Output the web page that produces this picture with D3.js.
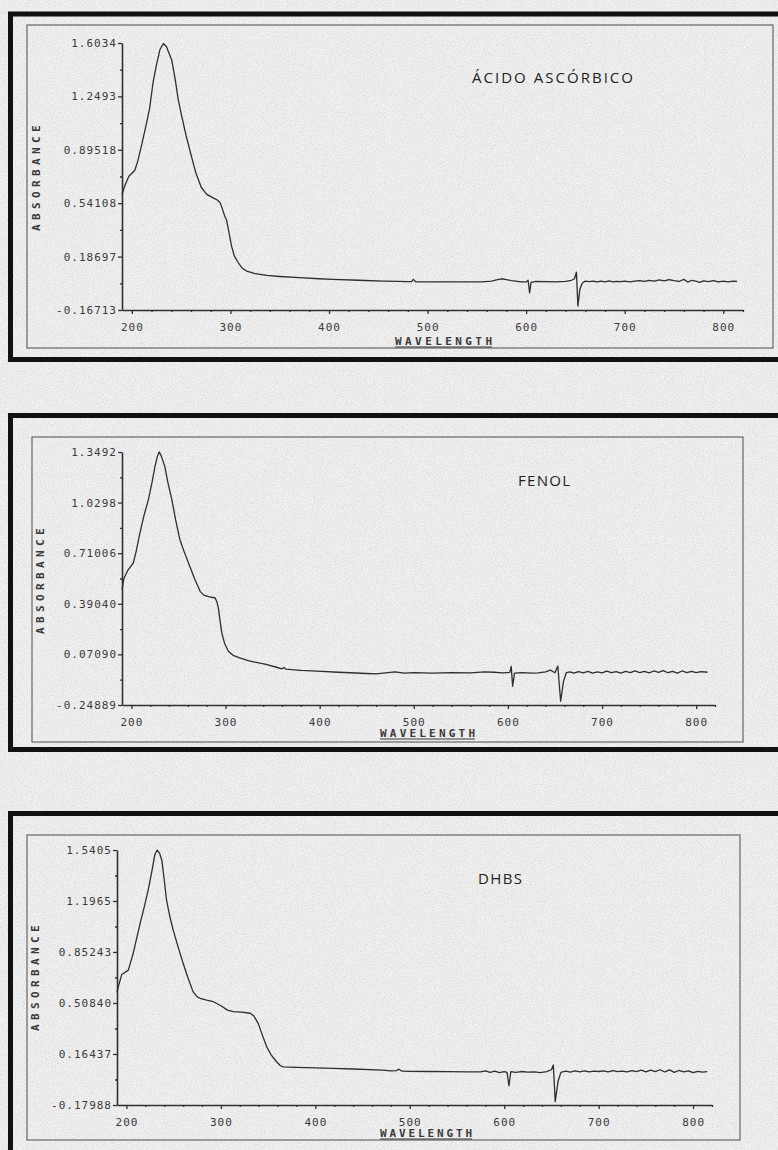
<!DOCTYPE html>
<html>
<head>
<meta charset="utf-8">
<script src="https://cdnjs.cloudflare.com/ajax/libs/d3/7.8.5/d3.min.js"></script>
<style>
  body { margin: 0; background: #ededed; }
  svg { display: block; }
</style>
</head>
<body>
<div id="container"></div>
<script>
/* DATA */
// x ticks shared by all three spectra (nm)
const xMajorTicks = [200, 300, 400, 500, 600, 700, 800];

// ÁCIDO ASCÓRBICO
const yTicksAsc = ["1.6034", "1.2493", "0.89518", "0.54108", "0.18697", "-0.16713"];
const wlAsc = [190, 193, 197, 203, 206, 210, 215.5, 218, 221.5, 225, 228.5, 232, 235, 238, 240.5, 244, 247, 250.5, 255, 260.5, 265, 270.5, 276, 282.5, 286, 289.5, 292, 294, 296, 298.5, 301, 304, 308, 312, 316.5, 325, 337, 350, 370, 390, 404, 430, 455,
  470, 480, 484, 485.5, 488, 500, 520, 540, 555, 565, 570, 575, 580, 585, 595, 600, 602, 603.5, 605, 610, 620, 630, 640, 646, 649, 651, 652.5, 654.5, 657, 660, 664, 668,
  672, 676, 680, 684, 688, 692, 696, 700, 705, 710, 715, 720, 725, 730, 735, 740, 745, 750, 755, 760, 764, 768, 772, 776, 780, 785, 790, 795, 800, 805, 810, 814];
const absAsc = [0.60, 0.66, 0.72, 0.76, 0.82, 0.93, 1.09, 1.17, 1.34, 1.46, 1.56, 1.60, 1.58, 1.53, 1.49, 1.36, 1.23, 1.12, 0.99, 0.85, 0.74, 0.645, 0.60, 0.576, 0.565, 0.545, 0.50, 0.46, 0.43, 0.35, 0.26, 0.19, 0.146, 0.11, 0.091, 0.074, 0.062, 0.055, 0.047, 0.040, 0.036, 0.030, 0.025,
  0.023, 0.021, 0.022, 0.036, 0.020, 0.020, 0.019, 0.020, 0.019, 0.024, 0.032, 0.040, 0.034, 0.028, 0.020, 0.019, 0.030, -0.053, 0.016, 0.022, 0.021, 0.020, 0.023, 0.030, 0.040, 0.084, -0.141, -0.030, 0.012, 0.024, 0.021, 0.025,
  0.019, 0.024, 0.020, 0.026, 0.019, 0.023, 0.021, 0.025, 0.020, 0.024, 0.028, 0.022, 0.030, 0.024, 0.032, 0.026, 0.035, 0.028, 0.022, 0.036, 0.018, 0.030, 0.025, 0.016, 0.026, 0.021, 0.027, 0.019, 0.024, 0.020, 0.024, 0.022];

// FENOL
const yTicksFen = ["1.3492", "1.0298", "0.71006", "0.39040", "0.07090", "-0.24889"];
const wlFen = [190, 192, 196.5, 202, 205, 209, 213, 218, 222, 225, 227.5, 229.5, 232, 235.5, 239, 243, 247, 251.5, 256, 262, 267, 273, 277, 282, 289, 291, 292.5, 294, 296, 299, 303, 308, 315, 325, 343, 355, 360, 362, 364, 380, 397, 420, 450, 460, 470,
  480, 490, 500, 520, 540, 560, 575, 585, 595, 602, 603.5, 605, 607, 615, 625, 632, 640, 645, 650, 653, 656, 659, 662, 666, 670, 675, 680, 685, 690, 695, 700, 705, 710, 715, 720, 725, 730, 735, 740, 745, 750, 755, 760, 765, 770, 775, 780, 785, 790, 795, 800, 805, 812];
const absFen = [0.48, 0.55, 0.605, 0.648, 0.72, 0.837, 0.94, 1.047, 1.16, 1.257, 1.32, 1.35, 1.32, 1.257, 1.15, 1.047, 0.92, 0.795, 0.72, 0.627, 0.55, 0.469, 0.445, 0.435, 0.427, 0.40, 0.36, 0.29, 0.207, 0.14, 0.091, 0.065, 0.049, 0.030, 0.007, -0.012, -0.020, -0.012, -0.022, -0.030, -0.035, -0.042, -0.050, -0.052, -0.046,
  -0.040, -0.048, -0.045, -0.047, -0.044, -0.046, -0.040, -0.042, -0.046, -0.043, -0.005, -0.130, -0.048, -0.045, -0.047, -0.046, -0.040, -0.028, -0.045, -0.003, -0.225, -0.100, -0.045, -0.040, -0.048, -0.038, -0.046, -0.036, -0.047, -0.040, -0.046, -0.035, -0.044, -0.038, -0.048, -0.036, -0.045, -0.033, -0.044, -0.037, -0.046, -0.034, -0.043, -0.032, -0.045, -0.036, -0.047, -0.034, -0.044, -0.036, -0.045, -0.038, -0.042];

// DHBS
const yTicksDhbs = ["1.5405", "1.1965", "0.85243", "0.50840", "0.16437", "-0.17988"];
const wlDhbs = [190, 191.5, 195, 202, 207, 214.5, 219, 223, 227, 230, 232.5, 235, 237.5, 240, 242.5, 246, 249.5, 255, 260, 265, 270.5, 275, 278, 285, 292, 300, 307, 313, 322, 331, 335, 339.5, 344, 348.5, 353, 359, 363, 366, 380, 400, 419, 440, 471,
  480, 486, 488, 492, 500, 520, 540, 560, 575, 580, 585, 590, 595, 600, 603, 605, 607, 612, 618, 625, 632, 638, 645, 650, 652, 654, 657, 660, 665, 670, 675, 680, 685, 690, 695, 700, 705, 710, 715, 720, 725, 730, 735, 740, 745, 750, 755, 760, 765, 770, 775, 780, 785, 790, 795, 800, 805, 810, 815];
const absDhbs = [0.58, 0.62, 0.70, 0.73, 0.84, 1.046, 1.16, 1.27, 1.40, 1.507, 1.54, 1.52, 1.47, 1.34, 1.20, 1.09, 1.00, 0.88, 0.776, 0.68, 0.585, 0.55, 0.54, 0.527, 0.517, 0.49, 0.46, 0.45, 0.447, 0.439, 0.42, 0.371, 0.29, 0.213, 0.16, 0.112, 0.085, 0.078, 0.074, 0.070, 0.067, 0.063, 0.056,
  0.050, 0.052, 0.062, 0.048, 0.047, 0.046, 0.045, 0.044, 0.043, 0.050, 0.040, 0.048, 0.038, 0.045, 0.040, -0.050, 0.045, 0.040, 0.046, 0.042, 0.044, 0.038, 0.046, 0.058, 0.090, -0.157, -0.020, 0.040, 0.048, 0.042, 0.050, 0.044, 0.051, 0.043, 0.049, 0.046, 0.050, 0.044, 0.052, 0.045, 0.049, 0.043, 0.052, 0.046, 0.055, 0.044, 0.056, 0.046, 0.058, 0.043, 0.057, 0.040, 0.053, 0.044, 0.050, 0.038, 0.047, 0.042, 0.045];

/* LAYOUT (pixel boxes of each panel) */
const width = 778, height = 1150;
const panels = [
  { title: "ÁCIDO ASCÓRBICO", wl: wlAsc, ab: absAsc, yTicks: yTicksAsc,
    outer: [10.5, 14, 790, 359.5], inner: [27, 25, 773, 348],
    plot: { left: 122, right: 743, top: 43, bottom: 310 },
    titlePos: [472, 83, 161], absPos: [36, 176], wavePos: [395, 345, 97] },
  { title: "FENOL", wl: wlFen, ab: absFen, yTicks: yTicksFen,
    outer: [10.5, 415.5, 790, 749.5], inner: [32, 437, 743, 742],
    plot: { left: 122, right: 715, top: 452, bottom: 705 },
    titlePos: [518, 486, 52], absPos: [40, 579], wavePos: [380, 737, 95] },
  { title: "DHBS", wl: wlDhbs, ab: absDhbs, yTicks: yTicksDhbs,
    outer: [10.5, 813.5, 790, 1170], inner: [27, 835, 740, 1140],
    plot: { left: 117, right: 712, top: 850, bottom: 1105 },
    titlePos: [478, 884, 44], absPos: [35, 976], wavePos: [380, 1137, 92] }
];

const monoFont = "'DejaVu Sans Mono', 'Liberation Mono', monospace";
const inkColor = "#303030";

const svg = d3.select("#container")
  .append("svg")
    .attr("width", width)
    .attr("height", height);

// paper grain
const defs = svg.append("defs");
const grain = defs.append("filter").attr("id", "grain").attr("x", 0).attr("y", 0).attr("width", 1).attr("height", 1);
grain.append("feTurbulence").attr("type", "fractalNoise").attr("baseFrequency", 0.9).attr("numOctaves", 2).attr("seed", 3);
grain.append("feColorMatrix").attr("type", "matrix")
  .attr("values", "0 0 0 0 0.35  0 0 0 0 0.35  0 0 0 0 0.35  0 0 0 -1.6 0.95");

svg.append("rect").attr("width", width).attr("height", height).attr("fill", "#f1f1f1");
svg.append("rect").attr("width", width).attr("height", height).attr("filter", "url(#grain)").attr("opacity", 0.4);

panels.forEach(drawPanel);

function drawPanel(p) {
  const g = svg.append("g");

  // thick outer frame
  g.append("rect")
    .attr("x", p.outer[0]).attr("y", p.outer[1])
    .attr("width", p.outer[2] - p.outer[0]).attr("height", p.outer[3] - p.outer[1])
    .attr("fill", "none").attr("stroke", "#111").attr("stroke-width", 5);

  // thin inner frame
  g.append("rect")
    .attr("x", p.inner[0]).attr("y", p.inner[1])
    .attr("width", p.inner[2] - p.inner[0]).attr("height", p.inner[3] - p.inner[1])
    .attr("fill", "none").attr("stroke", "#666").attr("stroke-width", 1.2);

  const yVals = p.yTicks.map(Number);
  const xScale = d3.scaleLinear().domain([190, 820]).range([p.plot.left, p.plot.right]);
  const yScale = d3.scaleLinear().domain([d3.min(yVals), d3.max(yVals)]).range([p.plot.bottom, p.plot.top]);

  const yMinor = d3.pairs(yVals).map(([a, b]) => (a + b) / 2);
  const xMinor = d3.range(200, 821, 20).filter(v => v % 100 !== 0);

  // y axis
  g.append("g")
    .attr("transform", `translate(${p.plot.left},0)`)
    .call(d3.axisLeft(yScale).tickValues(yVals).tickFormat((d, i) => p.yTicks[i]).tickSize(4).tickSizeOuter(0).tickPadding(1));
  g.append("g")
    .attr("transform", `translate(${p.plot.left},0)`)
    .call(d3.axisLeft(yScale).tickValues(yMinor).tickFormat("").tickSize(2).tickSizeOuter(0))
    .select(".domain").remove();

  // x axis
  g.append("g")
    .attr("transform", `translate(0,${p.plot.bottom})`)
    .call(d3.axisBottom(xScale).tickValues(xMajorTicks).tickSize(4).tickSizeOuter(0).tickPadding(9));
  g.append("g")
    .attr("transform", `translate(0,${p.plot.bottom})`)
    .call(d3.axisBottom(xScale).tickValues(xMinor).tickFormat("").tickSize(2).tickSizeOuter(0))
    .select(".domain").remove();

  g.selectAll(".domain").attr("stroke", inkColor).attr("stroke-width", 1.6);
  g.selectAll(".tick line").attr("stroke", inkColor).attr("stroke-width", 1.3);
  g.selectAll(".tick text")
    .attr("font-family", monoFont)
    .attr("font-size", "11px")
    .attr("letter-spacing", "1px")
    .attr("fill", "#3a3a3a");

  // spectrum
  const points = p.wl.map((w, i) => [w, p.ab[i]]);
  const lineGen = d3.line()
    .x(d => xScale(d[0]))
    .y(d => yScale(d[1]));
  g.append("path")
    .datum(points)
    .attr("d", lineGen)
    .attr("fill", "none")
    .attr("stroke", "#2e2e2e")
    .attr("stroke-width", 1.3)
    .attr("stroke-linejoin", "round");

  // axis titles
  g.append("text")
    .attr("transform", `translate(${p.absPos[0]},${p.absPos[1]}) rotate(-90)`)
    .attr("text-anchor", "middle")
    .attr("dy", "0.35em")
    .attr("font-family", monoFont)
    .attr("font-size", "11px")
    .attr("font-weight", "bold")
    .attr("letter-spacing", "4.4px")
    .attr("fill", "#3a3a3a")
    .text("ABSORBANCE");

  g.append("text")
    .attr("x", p.wavePos[0]).attr("y", p.wavePos[1])
    .attr("textLength", p.wavePos[2])
    .attr("lengthAdjust", "spacing")
    .attr("font-family", monoFont)
    .attr("font-size", "11px")
    .attr("font-weight", "bold")
    .attr("fill", "#3a3a3a")
    .text("WAVELENGTH");
  g.append("line")
    .attr("x1", p.wavePos[0]).attr("x2", p.wavePos[0] + p.wavePos[2])
    .attr("y1", p.wavePos[1] + 2).attr("y2", p.wavePos[1] + 2)
    .attr("stroke", "#3a3a3a").attr("stroke-width", 1.2);

  // substance name
  g.append("text")
    .attr("x", p.titlePos[0]).attr("y", p.titlePos[1])
    .attr("textLength", p.titlePos[2])
    .attr("lengthAdjust", "spacing")
    .attr("font-family", "'Open Sans', 'Noto Sans', sans-serif")
    .attr("font-size", "15px")
    .attr("fill", "#222")
    .text(p.title);
}
</script>
</body>
</html>
